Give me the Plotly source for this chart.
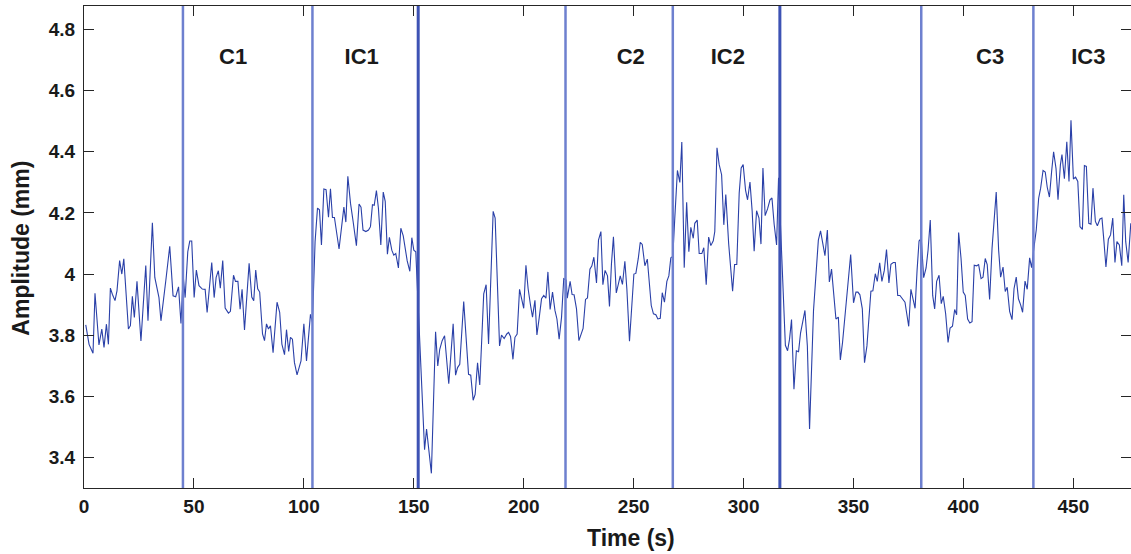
import plotly.graph_objects as go

# ---- data ----
time_s = [0.8, 2.3, 4.1, 5.0, 6.8, 8.1, 9.1, 10.2, 11.1, 12.0, 12.9, 14.1, 15.0, 16.2, 17.2, 18.1,
          20.2, 21.1, 22.0, 22.9, 24.1, 25.9, 28.1, 29.1, 31.1, 32.2, 34.1, 35.0, 37.2, 39.0, 40.5,
          41.7, 43.0, 44.1, 45.1, 46.0, 47.2, 48.1, 49.0, 50.1, 51.1, 52.3, 53.8, 55.1, 56.0, 58.1,
          59.2, 60.1, 61.1, 62.0, 63.1, 64.2, 65.7, 66.6, 68.0, 68.9, 70.0, 71.0, 71.9, 73.0, 75.1,
          76.3, 77.2, 78.1, 79.0, 79.9, 81.2, 82.1, 83.0, 83.9, 84.8, 86.0, 87.8, 89.0, 90.0, 91.2,
          92.1, 93.1, 93.9, 94.8, 95.7, 96.9, 98.7, 100.0, 101.2, 103.0, 103.9,
          105.1, 106.2, 107.1, 108.0, 109.1, 110.1, 111.2, 112.1, 113.0, 113.9, 114.8, 116.0, 118.2,
          119.1, 120.0, 121.2, 122.4, 123.9, 125.1, 126.0, 126.9, 128.2, 129.4, 130.3, 131.2, 132.0,
          133.0, 133.9, 135.0, 136.1, 137.0, 138.0, 138.9, 140.0, 140.9, 141.8, 143.0, 144.1, 145.2,
          147.0, 148.2, 149.1, 150.0, 150.9,
          154.9, 155.8, 158.0, 159.9, 160.9, 161.8, 162.9, 164.0, 165.9, 167.9, 169.0, 169.9, 170.9,
          172.7, 174.9, 175.9, 177.0, 177.9, 179.0, 180.0, 181.8, 182.9, 184.0, 186.1, 187.0, 189.0,
          189.9, 191.1, 192.3, 193.1, 194.0, 195.1, 196.0, 197.0, 198.1, 199.1, 200.0, 201.0, 202.0,
          203.1, 204.0, 205.1, 206.0, 207.0, 208.1, 209.1, 210.1, 211.0, 212.0, 213.1, 214.2, 215.1,
          216.1, 217.2, 218.2, 219.3, 219.8, 221.1, 222.0, 222.9, 224.0, 225.1, 226.1, 227.0, 228.1,
          229.0, 230.1,
          231.0, 231.9, 233.1, 234.0, 235.1, 236.0, 237.0, 238.1, 239.0, 239.9, 240.8, 242.1, 243.0,
          243.9, 244.9, 246.0, 246.9, 248.1, 250.1, 251.0, 252.1, 253.0, 253.9, 255.1, 256.2, 257.1,
          258.0, 259.0, 260.1, 261.0, 262.1, 263.0, 264.0, 265.1, 266.0, 266.9, 267.8, 268.7, 269.9,
          271.0, 271.9, 273.0, 274.1, 275.1, 276.0, 277.1, 277.8, 278.9, 279.8, 281.0, 281.9, 283.0,
          284.1, 285.1, 286.2, 286.9, 287.9, 288.9, 290.0, 291.0, 291.9, 293.2, 294.1, 295.0, 295.9,
          296.9, 298.0, 298.9, 299.8, 300.9, 301.8, 302.9, 303.9, 304.8, 305.9, 307.0, 307.9, 308.8,
          309.8, 310.9, 312.0, 312.9, 313.9, 315.0, 315.9,
          319.0, 320.0, 320.9, 321.8, 322.9, 324.0, 325.0, 325.9, 327.0, 327.9, 329.0, 330.0, 331.8,
          332.9, 334.0, 335.0, 336.1, 337.0, 338.1, 339.0, 340.0, 341.1, 342.0, 343.1, 344.0, 345.0,
          346.1, 347.2, 348.7, 350.0, 351.1, 352.0, 352.9, 354.0, 355.0, 356.1, 357.0, 357.9, 358.8,
          359.9, 360.8, 361.9, 362.9, 364.0, 365.0, 366.1, 367.0, 368.1, 369.0, 370.1, 371.1, 372.3,
          373.4, 374.1, 375.1, 376.1, 377.0, 378.0, 378.9, 379.8, 380.8, 381.9, 383.0, 383.9, 384.9,
          386.0, 386.9, 387.8, 388.9, 389.9, 390.8, 391.9, 393.0, 393.9,
          395.0, 396.0, 396.9, 397.8, 398.9, 399.9, 400.8, 401.9, 402.9, 403.9, 404.9, 406.0, 406.9,
          408.0, 408.9, 409.9, 410.8, 411.9, 413.0, 414.9, 416.0, 416.9, 418.0, 419.0, 419.9, 421.0,
          422.1, 423.0, 424.0, 425.0, 426.0, 426.9, 428.0, 429.0, 430.1, 431.0, 432.1, 433.1, 434.2,
          435.1, 436.2, 437.2, 438.1, 439.1, 440.1, 441.0, 442.1, 443.0, 444.1, 444.8, 445.9, 447.0,
          448.0, 448.9, 450.0, 451.0, 452.0, 453.0, 454.1, 455.0, 455.9, 457.0, 458.0, 458.9, 460.0,
          460.9, 462.1, 463.0, 463.9, 464.8, 465.9, 466.9, 467.9, 468.9, 469.8, 470.9, 472.0, 472.9,
          473.8, 474.9, 476.1]

amplitude_mm = [3.834, 3.770, 3.741, 3.937, 3.768, 3.820, 3.760, 3.836, 3.770, 3.954, 3.934, 3.913,
                3.945, 4.044, 4.000, 4.050, 3.820, 3.831, 3.927, 3.858, 3.976, 3.781, 4.028, 3.847,
                4.168, 3.989, 3.923, 3.847, 3.978, 4.091, 3.929, 3.926, 3.958, 3.838, 3.995, 3.923,
                4.073, 4.108, 4.108, 3.923, 4.013, 3.962, 3.951, 3.950, 3.874, 4.038, 3.923, 3.989,
                4.011, 3.954, 4.044, 3.889, 3.872, 3.878, 3.996, 3.976, 3.976, 3.885, 3.950, 3.817,
                4.035,
                3.925, 3.913, 4.013, 3.952, 3.941, 3.804, 3.782, 3.837, 3.820, 3.831, 3.743, 3.908,
                3.875, 3.771, 3.736, 3.818, 3.747, 3.793, 3.787, 3.711, 3.670, 3.716, 3.837, 3.716,
                3.868, 3.842,
                4.106, 4.216, 4.210, 4.095, 4.278, 4.276, 4.186, 4.279, 4.185, 4.185, 4.144, 4.082,
                4.219, 4.170, 4.320, 4.232, 4.172, 4.093, 4.229, 4.219, 4.144, 4.139, 4.144, 4.155,
                4.227, 4.225, 4.273, 4.216, 4.095, 4.268, 4.238, 4.065, 4.120, 4.078, 4.062, 4.067,
                4.020, 4.150, 4.125, 4.043, 4.009, 4.119, 4.078, 4.073,
                3.425, 3.493, 3.348, 3.811, 3.699, 3.754, 3.782, 3.798, 3.641, 3.837, 3.669, 3.694,
                3.705, 3.910, 3.672, 3.669, 3.587, 3.606, 3.710, 3.637, 3.935, 3.965, 3.771, 4.205,
                4.183, 3.765, 3.800, 3.789, 3.804, 3.809, 3.796, 3.721, 3.793, 3.804, 3.950, 3.919,
                3.888, 4.029, 3.952, 3.897, 3.859, 3.914, 3.801, 3.855, 3.919, 3.930, 3.921, 4.007,
                3.884, 3.941, 3.881, 3.853, 3.787, 3.859, 3.985, 3.980, 3.921, 3.976, 3.933, 3.932,
                3.886, 3.782, 3.804, 3.822, 3.917, 3.922, 4.016,
                4.027, 4.055, 3.971, 4.111, 4.139, 3.965, 4.012, 3.994, 3.894, 4.034, 4.122, 3.938,
                3.969, 3.994, 3.966, 4.042, 3.952, 3.780, 4.000, 4.002, 4.051, 4.104, 4.097, 4.027,
                4.049, 3.974, 3.897, 3.870, 3.867, 3.853, 3.855, 3.939, 3.908, 3.976, 3.994, 4.053,
                4.058, 4.183, 4.339, 4.300, 4.432, 4.021, 4.235, 4.073, 4.153, 4.117, 4.166, 4.177,
                4.067, 4.067, 4.086, 3.965, 4.121, 4.093, 4.109, 4.139, 4.413, 4.358, 4.325, 4.161,
                4.260, 4.100, 4.018, 3.944, 4.031, 4.031, 4.265, 4.347, 4.358, 4.274, 4.243, 4.301,
                4.205, 4.075, 4.207, 4.183, 4.098, 4.347, 4.191, 4.213, 4.243, 4.249, 4.163, 4.095,
                4.315,
                3.767, 3.749, 3.787, 3.851, 3.623, 3.749, 3.746, 3.807, 3.842, 3.881, 3.765, 3.493,
                3.881, 4.012, 4.111, 4.141, 4.095, 4.060, 4.144, 3.974, 4.016, 3.919, 3.853, 3.859,
                3.719, 3.776, 3.864, 3.957, 4.064, 3.906, 3.941, 3.941, 3.932, 3.886, 3.710, 3.765,
                3.864, 3.944, 3.945, 4.001, 3.976, 4.037, 3.976, 4.012, 4.080, 3.971, 4.032, 4.038,
                4.038, 3.930, 3.930, 3.919, 3.908, 3.875, 3.829, 3.950, 3.919, 3.888, 4.012, 4.108,
                4.117, 3.988, 4.020, 4.078, 4.177, 3.930, 3.886, 3.976, 3.996, 3.903, 3.927, 3.870,
                3.776, 3.823,
                3.829, 3.884, 3.867, 4.136, 4.051, 3.941, 3.930, 3.853, 3.840, 3.844, 4.029, 4.027,
                4.031, 3.985, 3.990, 4.051, 4.031, 3.917, 4.084, 4.268, 4.078, 3.990, 4.023, 3.943,
                3.957, 3.878, 3.851, 3.952, 3.990, 3.919, 3.899, 3.875, 3.977, 3.950, 4.053, 4.021,
                4.089, 4.144, 4.248, 4.281, 4.339, 4.334, 4.284, 4.252, 4.336, 4.400, 4.345, 4.243,
                4.358, 4.391, 4.312, 4.433, 4.303, 4.503, 4.311, 4.317, 4.303, 4.155, 4.146, 4.355,
                4.352, 4.166, 4.163, 4.281, 4.172, 4.158, 4.180, 4.183, 4.106, 4.023, 4.114, 4.128,
                4.183, 4.038, 4.106, 4.095, 4.027, 4.259, 4.106, 4.038, 4.166]

boundaries_s = [45.0, 103.9, 152.0, 219.0, 267.8, 316.5, 380.8, 431.8]
phase_labels = ["C1", "IC1", "C2", "IC2", "C3", "IC3"]
phase_label_x = [67.8, 126.3, 248.7, 292.8, 412.1, 456.8]
phase_label_y = 4.705

x_ticks = [0, 50, 100, 150, 200, 250, 300, 350, 400, 450]
y_ticks = [3.4, 3.6, 3.8, 4.0, 4.2, 4.4, 4.6, 4.8]
y_tick_text = ["3.4", "3.6", "3.8", "4", "4.2", "4.4", "4.6", "4.8"]

X_RANGE = [0, 476.2]
Y_RANGE = [3.3, 4.877]

FONT = "Liberation Sans, Arial, Helvetica, sans-serif"
AX_COLOR = "#262626"

fig = go.Figure()

fig.add_trace(go.Scatter(
    x=time_s, y=amplitude_mm, mode="lines",
    line=dict(color="#2a40a8", width=1.1),
    hoverinfo="skip", showlegend=False,
))

# invisible trace so the right-hand tick axis is drawn
fig.add_trace(go.Scatter(x=[None], y=[None], yaxis="y2", showlegend=False, hoverinfo="skip"))

dark = {152.0, 316.5}
for b in boundaries_s:
    fig.add_shape(type="line", xref="x", yref="paper", x0=b, x1=b, y0=0, y1=1,
                  line=dict(color="#3d52b4" if b in dark else "#6e80cf",
                            width=3 if b in dark else 2.5),
                  layer="above")

fig.add_trace(go.Scatter(
    x=phase_label_x, y=[phase_label_y] * len(phase_labels), mode="text",
    text=phase_labels,
    textfont=dict(family=FONT, size=22, color="#1a1a1a", weight="bold"),
    hoverinfo="skip", showlegend=False,
))

fig.update_layout(
    width=1131, height=554,
    margin=dict(l=84, r=0, t=6, b=66),
    paper_bgcolor="white", plot_bgcolor="white",
    xaxis=dict(
        range=X_RANGE, tickvals=x_ticks, ticktext=[str(v) for v in x_ticks],
        ticks="inside", ticklen=10, tickwidth=1, tickcolor=AX_COLOR,
        showline=True, linecolor=AX_COLOR, linewidth=1, mirror="ticks",
        showgrid=False, zeroline=False,
        tickfont=dict(family=FONT, size=19, color="#1a1a1a", weight="bold"),
        ticklabelstandoff=1,
    ),
    yaxis=dict(
        range=Y_RANGE, tickvals=y_ticks, ticktext=y_tick_text,
        ticks="inside", ticklen=10, tickwidth=1, tickcolor=AX_COLOR,
        showline=True, linecolor=AX_COLOR, linewidth=1, mirror=False,
        showgrid=False, zeroline=False,
        tickfont=dict(family=FONT, size=19, color="#1a1a1a", weight="bold"),
        ticklabelstandoff=4,
    ),
    yaxis2=dict(
        range=Y_RANGE, tickvals=y_ticks, overlaying="y", side="right",
        ticks="inside", ticklen=10, tickwidth=1, tickcolor=AX_COLOR,
        showticklabels=False, showline=False, showgrid=False, zeroline=False,
    ),
    annotations=[
        dict(text="Time (s)", xref="paper", yref="paper", x=0.5224, y=-0.104,
             xanchor="center", yanchor="middle", showarrow=False,
             font=dict(family=FONT, size=23, color="#1a1a1a", weight="bold")),
        dict(text="Amplitude (mm)", xref="paper", yref="paper", x=-0.060, y=0.497,
             xanchor="center", yanchor="middle", textangle=-90, showarrow=False,
             font=dict(family=FONT, size=23, color="#1a1a1a", weight="bold")),
    ],
)

fig.write_html(
    "out.html",
    config={"displayModeBar": False},
    post_script="document.body.style.margin='0px';document.body.style.overflow='hidden';",
)
